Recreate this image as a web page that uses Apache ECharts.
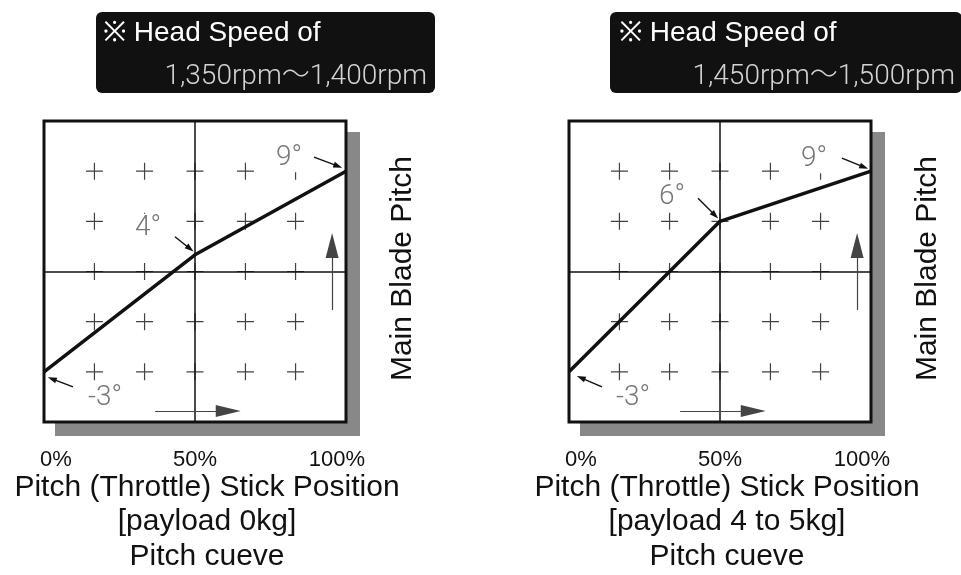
<!DOCTYPE html>
<html>
<head>
<meta charset="utf-8">
<script src="https://cdn.jsdelivr.net/npm/echarts@6/dist/echarts.min.js"></script>
<style>
  html, body { margin: 0; padding: 0; background: #fff; }
  #chart { width: 961px; height: 575px; }
</style>
</head>
<body>
<div id="chart"></div>
<script>
// stick position (%) and main blade pitch (deg) for each curve
const stickPos = [0, 50, 100];
const pitchLight = [-3, 4, 9];
const pitchHeavy = [-3, 6, 9];
const tickValues = [0, 50, 100];
const tickLabels = ['0%', '50%', '100%'];
// "+" grid markers
const plusCols = [16.7, 33.3, 50, 66.7, 83.3];
const plusRows = [-3, 0, 3, 6, 9];
const speedText = ['1,350rpm〜1,400rpm', '1,450rpm〜1,500rpm'];
const payloadText = ['[payload 0kg]', '[payload 4 to 5kg]'];

// layout
const grids = [
  { left: 44, top: 121, width: 302, height: 301 },
  { left: 569, top: 121, width: 302, height: 301 }
];
const yMin = -6, yMax = 12;
const pxX = 100 / 302, pxY = (yMax - yMin) / 301;
const labelOff = [
  [[61, 26], [-47, -27], [-57, -13]],
  [[64, 26], [-48, -24], [-57, -12]]
];
// small pointer arrows: start dx,dy then head dx,dy (pixels from the point)
const pointerOff = [
  [[29, 15, 8, 7], [-20, -18, -5, -6], [-32, -14, -8, -5]],
  [[33, 15, 12, 6], [-22, -23, -5, -6], [-29, -13, -7, -4]]
];
const headerBox = [
  { x: 96, w: 339, textL: 103, textR: 427 },
  { x: 610, w: 352, textL: 619, textR: 955 }
];
const captionShift = [24, 14];

const chart = echarts.init(document.getElementById('chart'));
const sans = '"Liberation Sans", Arial, sans-serif';

const plusPath = 'path://M7.9,0h1.2v7.9h7.9v1.2h-7.9v7.9h-1.2v-7.9h-7.9v-1.2h7.9z';
const plusData = [];
plusCols.forEach(c => plusRows.forEach(r => plusData.push([c, r])));

const series = [], xAxis = [], yAxis = [], graphic = [];

[pitchLight, pitchHeavy].forEach((pitch, i) => {
  const g = grids[i];
  const h = headerBox[i];
  graphic.push({
    type: 'rect', z: -10, silent: true,
    shape: { x: g.left + 11, y: g.top + 11, width: g.width + 3, height: g.height + 3 },
    style: { fill: '#888' }
  });
  graphic.push({
    type: 'group', silent: true,
    children: [
      { type: 'rect', shape: { x: h.x, y: 12, width: h.w, height: 81, r: 6 }, style: { fill: '#111' } },
      {
        type: 'text', x: h.textL, y: 33,
        style: { text: '※ Head Speed of', fill: '#fff', font: '28px "Liberation Sans", Arial, sans-serif', verticalAlign: 'middle', align: 'left' }
      },
      {
        type: 'text', x: h.textR, y: 77,
        style: { text: speedText[i], fill: '#d4d4d4', font: '300 28px Roboto, "Noto Sans CJK JP", sans-serif', verticalAlign: 'middle', align: 'right' }
      }
    ]
  });
  xAxis.push({
    gridIndex: i, type: 'value', min: 0, max: 100, interval: 50,
    axisLine: { show: false }, axisTick: { show: false }, splitLine: { show: false },
    axisLabel: {
      margin: 27,
      formatter: v => {
        const t = tickLabels[tickValues.indexOf(v)];
        return v === 0 ? '{l|' + t + '}' : v === 100 ? '{r|' + t + '}' : '{m|' + t + '}';
      },
      rich: {
        l: { fontSize: 22, color: '#111', fontFamily: sans, padding: [0, 0, 0, 24] },
        m: { fontSize: 22, color: '#111', fontFamily: sans },
        r: { fontSize: 22, color: '#111', fontFamily: sans, padding: [0, 18, 0, 0] }
      }
    },
    name: 'Pitch (Throttle) Stick Position\n' + payloadText[i] + '\nPitch cueve',
    nameLocation: 'middle', nameGap: 48, nameMoveOverlap: false,
    nameTextStyle: {
      fontSize: 30, lineHeight: 34.5, color: '#111', fontFamily: sans,
      padding: [0, 0, 0, captionShift[i]]
    }
  });
  yAxis.push({
    gridIndex: i, type: 'value', min: yMin, max: yMax, interval: 3, position: 'right',
    axisLine: { show: false }, axisTick: { show: false }, splitLine: { show: false },
    axisLabel: { show: false },
    name: 'Main Blade Pitch', nameLocation: 'middle', nameRotate: 90, nameGap: 42,
    nameMoveOverlap: false,
    nameTextStyle: { fontSize: 30, color: '#111', fontFamily: sans, padding: [0, 0, 0, 6] }
  });

  // plus markers + centre cross
  series.push({
    type: 'scatter', xAxisIndex: i, yAxisIndex: i, silent: true, z: 2,
    symbol: plusPath, symbolSize: 17, itemStyle: { color: '#111' },
    data: plusData,
    markLine: {
      silent: true, symbol: 'none', label: { show: false },
      lineStyle: { color: '#111', width: 1.5, type: 'solid' },
      data: [{ xAxis: 50 }, { yAxis: 3 }]
    }
  });

  // direction arrows
  series.push({
    type: 'line', xAxisIndex: i, yAxisIndex: i, silent: true, z: 3, data: [],
    markLine: {
      silent: true, label: { show: false },
      lineStyle: { color: '#444', width: 1.2, type: 'solid' },
      data: [
        [{ coord: [36.8, -5.34], symbol: 'none' }, { coord: [61, -5.34], symbol: 'triangle', symbolSize: [12, 25] }],
        [{ coord: [95.4, 0.7], symbol: 'none' }, { coord: [95.4, 4.56], symbol: 'triangle', symbolSize: [13, 25] }]
      ]
    }
  });

  const pts = stickPos.map((x, k) => ({
    value: [x, pitch[k]],
    label: { offset: labelOff[i][k] }
  }));
  const pointers = stickPos.map((x, k) => {
    const o = pointerOff[i][k];
    return [
      { coord: [x + o[0] * pxX, pitch[k] - o[1] * pxY], symbol: 'none' },
      { coord: [x + o[2] * pxX, pitch[k] - o[3] * pxY], symbol: 'triangle', symbolSize: [6, 9] }
    ];
  });
  series.push({
    type: 'line', xAxisIndex: i, yAxisIndex: i, z: 5, silent: true,
    symbol: 'circle', symbolSize: 1, itemStyle: { color: '#111' },
    lineStyle: { color: '#111', width: 3.5 },
    label: {
      show: true, position: 'inside', formatter: p => p.value[1] + '°',
      fontSize: 28, fontFamily: 'Roboto', fontWeight: 300, color: '#777',
      align: 'center', verticalAlign: 'middle',
      backgroundColor: '#fff', padding: [0, 5]
    },
    data: pts,
    markLine: {
      silent: true, label: { show: false },
      lineStyle: { color: '#111', width: 1.5, type: 'solid' },
      data: pointers
    }
  });
});

chart.setOption({
  animation: false,
  backgroundColor: '#fff',
  graphic,
  grid: grids.map(g => Object.assign({
    show: true, backgroundColor: '#fff', borderColor: '#111', borderWidth: 3,
    containLabel: false, outerBoundsMode: 'none'
  }, g)),
  xAxis,
  yAxis,
  series
});
</script>
</body>
</html>
